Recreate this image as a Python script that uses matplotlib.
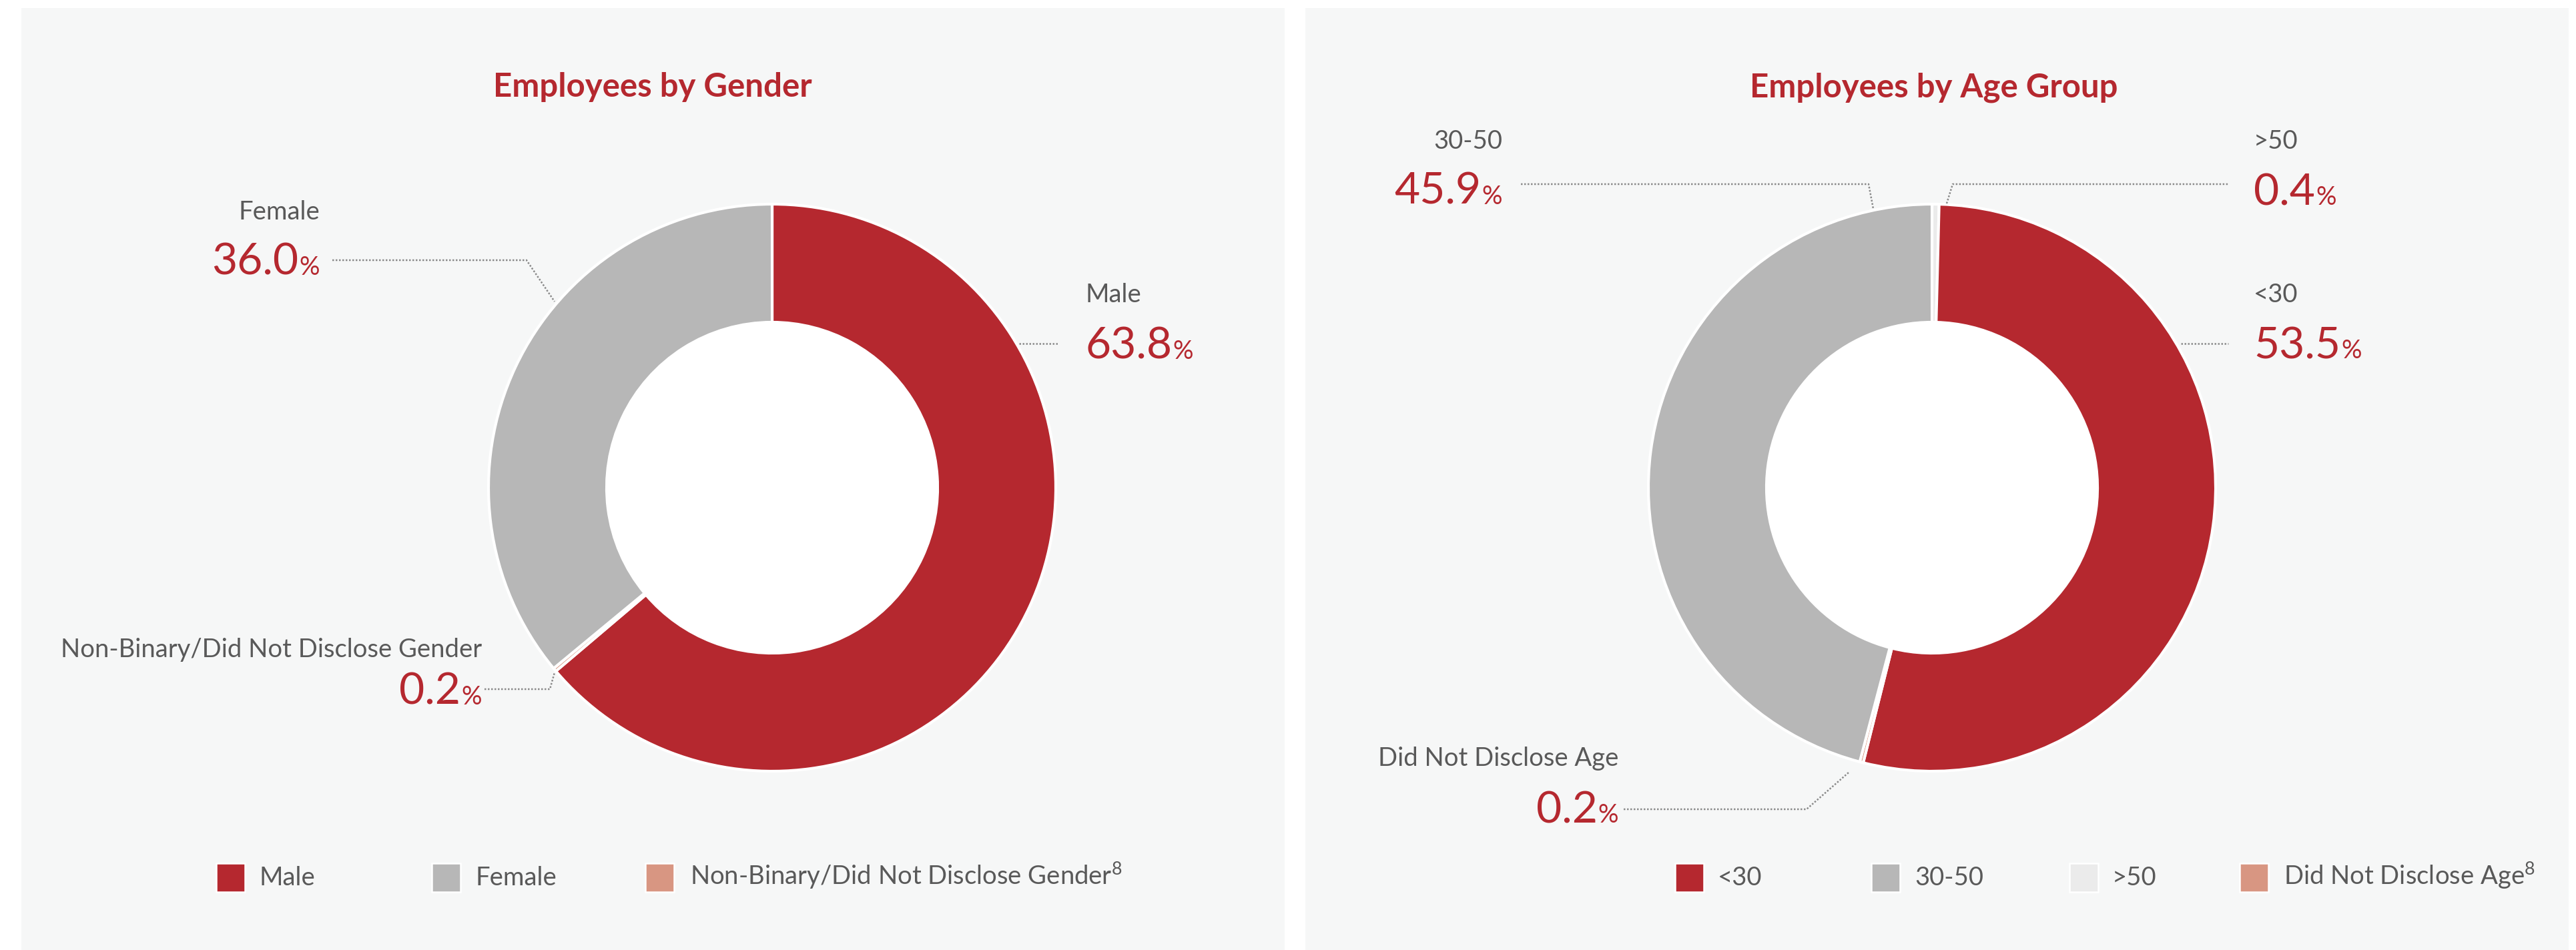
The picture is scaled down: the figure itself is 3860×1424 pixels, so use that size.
import matplotlib
matplotlib.use('Agg')
import matplotlib.pyplot as plt
from matplotlib.patches import Rectangle, Circle

# canvas is laid out in pixels, y measured from the top
W, H = 3861, 1424
DPI = 300

gender_labels = ['Male', 'Female', 'Non-Binary/Did Not Disclose Gender']
gender_values = [63.8, 36.0, 0.2]
gender_order = [0, 2, 1]          # clockwise from 12 o'clock

age_labels = ['<30', '30-50', '>50', 'Did Not Disclose Age']
age_values = [53.5, 45.9, 0.4, 0.2]
age_order = [2, 0, 3, 1]

RED = '#b5282f'
GREY = '#b7b7b7'
LIGHT = '#ebebeb'
SALMON = '#d89682'
TEXT = '#595959'
PANEL = '#f6f7f7'
LEADER = '#8a8a8a'

gender_colors = [RED, GREY, SALMON]
age_colors = [RED, GREY, LIGHT, SALMON]

TITLE_FS = 11.8
LABEL_FS = 9.2
NUM_FS = 15.8
PCT_FS = 9.2

plt.rcParams['font.family'] = ['Lato', 'DejaVu Sans']
plt.rcParams['mathtext.fontset'] = 'custom'
plt.rcParams['mathtext.rm'] = 'Lato'


def py(y):
    return H - y


fig = plt.figure(figsize=(W / DPI, H / DPI), dpi=DPI, facecolor='white')
ax = fig.add_axes([0, 0, 1, 1])
renderer = fig.canvas.get_renderer()


def reset_limits():
    ax.set_xlim(0, W)
    ax.set_ylim(0, H)


def donut(cx, cy, values, colors, order):
    ax.pie([values[i] for i in order], colors=[colors[i] for i in order],
           startangle=90, counterclock=False, center=(cx, py(cy)), radius=425,
           wedgeprops=dict(width=425 - 248, edgecolor='white', linewidth=1.0))
    ax.add_patch(Circle((cx, py(cy)), 248, facecolor='white', edgecolor='none', zorder=3))
    reset_limits()


def value_label(x, y, value, align):
    kw = dict(va='baseline', color=RED)
    if align == 'left':
        t = ax.text(x, py(y), f'{value:.1f}', ha='left', fontsize=NUM_FS, **kw)
        bb = t.get_window_extent(renderer)
        ax.text(bb.x1 + 1, py(y), '%', ha='left', fontsize=PCT_FS, **kw)
    else:
        p = ax.text(x, py(y), '%', ha='right', fontsize=PCT_FS, **kw)
        bb = p.get_window_extent(renderer)
        ax.text(bb.x0 - 1, py(y), f'{value:.1f}', ha='right', fontsize=NUM_FS, **kw)


def callout(name, value, x, y_name, y_value, align, path):
    ax.text(x, py(y_name), name, ha=align, va='baseline', fontsize=LABEL_FS, color=TEXT)
    value_label(x, y_value, value, align)
    xs = [p[0] for p in path]
    ys = [py(p[1]) for p in path]
    ax.plot(xs, ys, color=LEADER, lw=0.6, linestyle=(0, (1, 1)), zorder=4)


def legend(items, colors, xs_box, xs_text, sup):
    for i, (name, col) in enumerate(zip(items, colors)):
        ax.add_patch(Rectangle((xs_box[i], py(1337)), 43, 43, facecolor=col,
                               edgecolor='white', linewidth=0.6, zorder=3))
        if i == len(items) - 1 and sup:
            name = name + r'$^{\mathrm{8}}$'
        ax.text(xs_text[i], py(1327), name, ha='left', va='baseline',
                fontsize=LABEL_FS, color=TEXT)


# background panels
ax.add_patch(Rectangle((32, 0), 1893, py(12), facecolor=PANEL, edgecolor='none', zorder=0))
ax.add_patch(Rectangle((1956, 0), 1893, py(12), facecolor=PANEL, edgecolor='none', zorder=0))

# donuts first, so the axis limits are settled before measuring text
donut(1157, 731, gender_values, gender_colors, gender_order)
donut(2895, 731, age_values, age_colors, age_order)
ax.set_aspect('auto')
reset_limits()
ax.axis('off')

# ---- Employees by Gender ----
ax.text(978, py(145), 'Employees by Gender', ha='center', va='baseline',
        fontsize=TITLE_FS, fontweight='bold', color=RED)

callout(gender_labels[1], gender_values[1], 479, 329, 412, 'right',
        [(498, 390), (789, 390), (831, 452)])
callout(gender_labels[0], gender_values[0], 1626, 453, 538, 'left',
        [(1527, 515), (1587, 515)])
callout(gender_labels[2], gender_values[2], 722, 985, 1056, 'right',
        [(726, 1033), (824, 1033), (831, 1008)])

legend(gender_labels, gender_colors, [324, 647, 967], [389, 713, 1034], True)

# ---- Employees by Age Group ----
ax.text(2898, py(145), 'Employees by Age Group', ha='center', va='baseline',
        fontsize=TITLE_FS, fontweight='bold', color=RED)

callout(age_labels[1], age_values[1], 2251, 223, 306, 'right',
        [(2279, 276), (2800, 276), (2807, 313)])
callout(age_labels[2], age_values[2], 3377, 223, 307, 'left',
        [(2917, 305), (2926, 276), (3339, 276)])
callout(age_labels[0], age_values[0], 3377, 453, 537, 'left',
        [(3268, 515), (3339, 515)])
callout(age_labels[3], age_values[3], 2425, 1148, 1233, 'right',
        [(2433, 1213), (2707, 1213), (2770, 1158)])

legend(age_labels, age_colors, [2510, 2804, 3101, 3356], [2574, 2869, 3165, 3422], True)

fig.savefig('out.png', dpi=DPI, facecolor='white')
